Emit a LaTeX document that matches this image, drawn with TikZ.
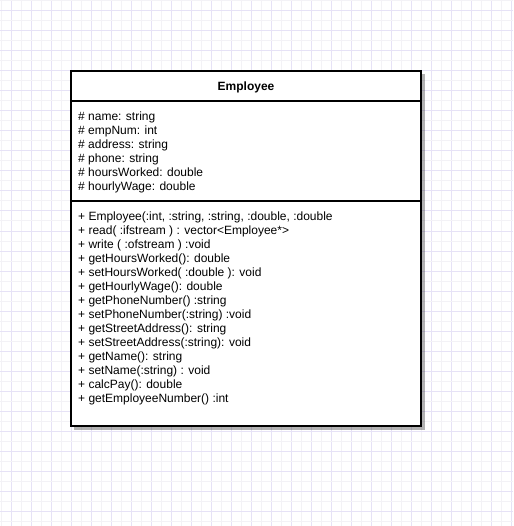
\documentclass[tikz,border=0pt]{standalone}
\usepackage{fontspec}
\setmainfont{Liberation Sans}
\definecolor{gridA}{HTML}{F3F2F6}
\definecolor{gridB}{HTML}{E6E2F6}
\tikzset{
  umlline/.style={line width=2pt, draw=black},
  member/.style={anchor=base west, inner sep=0pt, font=\fontsize{12}{14}\selectfont},
  title/.style={anchor=base, inner sep=0pt, font=\fontsize{12}{14}\selectfont\bfseries},
}
\begin{document}
\begin{tikzpicture}[x=1pt,y=-1pt]
\useasboundingbox (0,0) rectangle (513,526);
\fill[white] (0,0) rectangle (513,526);
% grid
\foreach \i in {0,...,51} {
  \pgfmathsetmacro{\gx}{1+10*\i}
  \pgfmathtruncatemacro{\odd}{mod(\i,2)}
  \ifnum\odd=0 \def\gc{gridA}\else\def\gc{gridB}\fi
  \draw[\gc, line width=1pt] (\gx,0) -- (\gx,526);
}
\foreach \i in {0,...,52} {
  \pgfmathsetmacro{\gy}{1+10*\i}
  \pgfmathtruncatemacro{\odd}{mod(\i,2)}
  \ifnum\odd=0 \def\gc{gridA}\else\def\gc{gridB}\fi
  \draw[\gc, line width=1pt] (0,\gy) -- (513,\gy);
}
% shadow
\fill[black, opacity=0.3] (74,74) rectangle (425,430);
% box
\coordinate (tl) at (71,71);
\coordinate (br) at (421,426);
\fill[white] (tl) rectangle (br);
\draw[umlline] (71,101) -- (421,101);
\draw[umlline] (71,201) -- (421,201);
\draw[umlline] (tl) rectangle (br);
\node[title] (head) at (246,91) {Employee};
% attributes
\foreach \t [count=\k] in {
  {\# name: string},
  {\# empNum: int},
  {\# address: string},
  {\# phone: string},
  {\# hoursWorked: double},
  {\# hourlyWage: double}} {
  \node[member] (a\k) at (78,{120.5+14*(\k-1)}) {\t};
}
% operations
\foreach \t [count=\k] in {
  {+ Employee(:int, :string, :string, :double, :double},
  {+ read( :ifstream ) : vector<Employee*>},
  {+ write ( :ofstream ) :void},
  {+ getHoursWorked(): double},
  {+ setHoursWorked( :double ): void},
  {+ getHourlyWage(): double},
  {+ getPhoneNumber() :string},
  {+ setPhoneNumber(:string) :void},
  {+ getStreetAddress(): string},
  {+ setStreetAddress(:string): void},
  {+ getName(): string},
  {+ setName(:string) : void},
  {+ calcPay(): double},
  {+ getEmployeeNumber() :int}} {
  \node[member] (m\k) at (78,{220.5+14*(\k-1)}) {\t};
}
\end{tikzpicture}
\end{document}
